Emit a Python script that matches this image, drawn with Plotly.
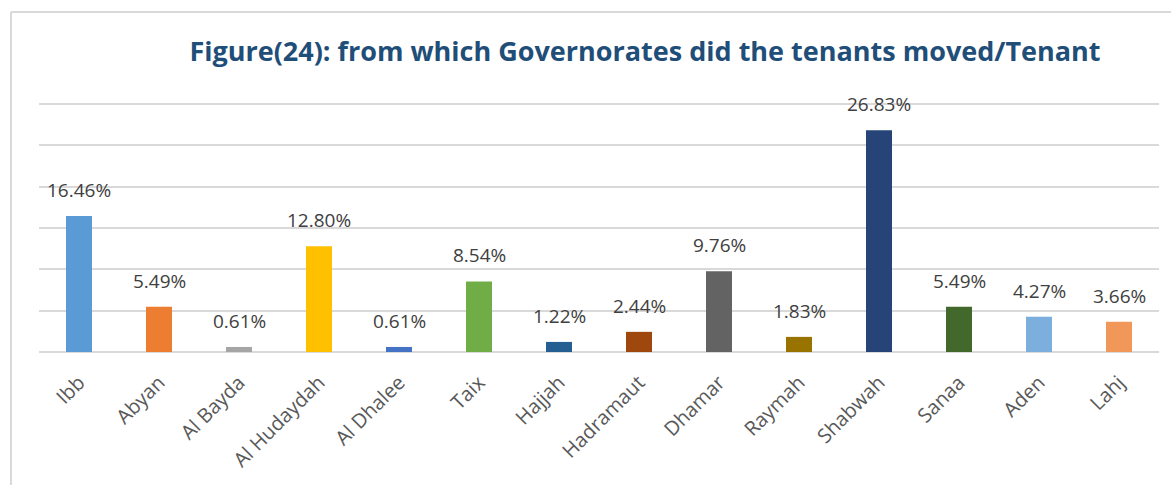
import plotly.graph_objects as go

categories = ["Ibb", "Abyan", "Al Bayda", "Al Hudaydah", "Al Dhalee", "Taix", "Hajjah",
              "Hadramaut", "Dhamar", "Raymah", "Shabwah", "Sanaa", "Aden", "Lahj"]
values = [16.46, 5.49, 0.61, 12.80, 0.61, 8.54, 1.22, 2.44, 9.76, 1.83, 26.83, 5.49, 4.27, 3.66]
colors = ["#5B9BD5", "#ED7D31", "#A5A5A5", "#FFC000", "#4472C4", "#70AD47", "#255E91",
          "#9E480E", "#636363", "#997300", "#264478", "#43682B", "#7CAFDD", "#F1975A"]
title = "Figure(24): from which Governorates did the tenants moved/Tenant"

W, H = 1171, 485
L, R, T, B = 39, 12, 100, 133
pw = W - L - R
ph = H - T - B

fig = go.Figure(go.Bar(x=categories, y=values, marker=dict(color=colors, line_width=0),
                       width=0.325, hoverinfo="skip"))

for c, v in zip(categories, values):
    fig.add_annotation(x=c, y=v, text=f"{v:.2f}%", showarrow=False, yanchor="bottom",
                       yshift=11, font=dict(family="Open Sans", size=19, color="#404040"))

# outer border (left & top)
fig.add_shape(type="line", xref="paper", yref="paper",
              x0=(11 - L) / pw, x1=(11 - L) / pw, y0=(H - 12 - B) / ph, y1=-B / ph - 0.1,
              line=dict(color="#D9D9D9", width=2))
fig.add_shape(type="line", xref="paper", yref="paper",
              x0=(11 - L) / pw, x1=1.1, y0=(H - 12 - B) / ph, y1=(H - 12 - B) / ph,
              line=dict(color="#D9D9D9", width=2))

fig.update_layout(
    width=W, height=H,
    margin=dict(l=L, r=R, t=T, b=B),
    paper_bgcolor="white", plot_bgcolor="white",
    title=dict(text=f"<b>{title}</b>", x=645 / W, xanchor="center", y=1 - 52 / H, yanchor="middle",
               font=dict(family="Open Sans", size=27, color="#1F4E79")),
    showlegend=False,
    xaxis=dict(tickangle=-45, tickfont=dict(family="Open Sans", size=20, color="#595959"),
               showgrid=False, showline=False, ticks="outside", ticklen=10, tickcolor="rgba(0,0,0,0)"),
    yaxis=dict(range=[0, 30.5], tickvals=[5, 10, 15, 20, 25, 30], showticklabels=False,
               gridcolor="#D9D9D9", gridwidth=1.5,
               zeroline=True, zerolinecolor="#D9D9D9", zerolinewidth=2, showline=False, ticks=""),
)

fig.write_html("out.html")
